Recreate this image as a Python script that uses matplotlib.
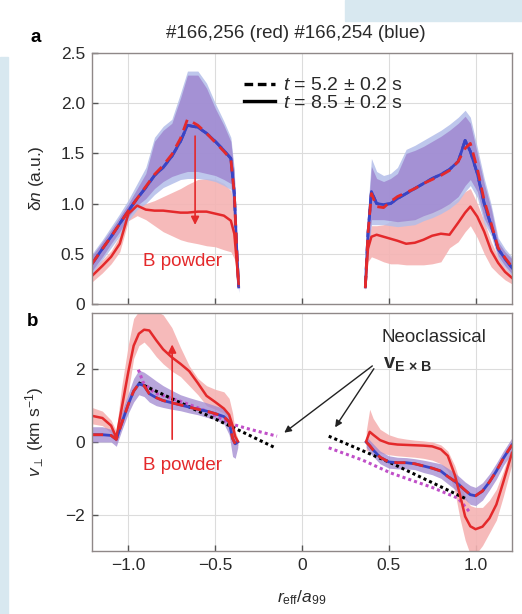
import numpy as np
import matplotlib.pyplot as plt
from matplotlib.patches import Rectangle

plt.rcParams['font.family'] = ['Liberation Sans', 'DejaVu Sans']
plt.rcParams['mathtext.fontset'] = 'custom'
plt.rcParams['mathtext.rm'] = 'Liberation Sans'
plt.rcParams['mathtext.it'] = 'Liberation Sans:italic'
plt.rcParams['mathtext.bf'] = 'Liberation Sans:bold'

# ---- panel a (density fluctuation), left side ----
xa_left = [-1.21, -1.15, -1.10, -1.05, -1.00, -0.95, -0.90, -0.85, -0.80, -0.75,
           -0.70, -0.66, -0.60, -0.55, -0.50, -0.45, -0.41, -0.39, -0.375, -0.365]
dn_blue_left = [0.40, 0.55, 0.67, 0.80, 0.93, 1.05, 1.16, 1.28, 1.36, 1.47,
                1.62, 1.78, 1.76, 1.70, 1.62, 1.53, 1.45, 1.10, 0.50, 0.17]
dn_red52_left = [0.40, 0.55, 0.67, 0.80, 0.93, 1.05, 1.17, 1.29, 1.38, 1.49,
                 1.65, 1.84, 1.78, 1.70, 1.61, 1.52, 1.44, 1.10, 0.50, 0.17]
dn_red85_left = [0.28, 0.38, 0.47, 0.60, 0.90, 0.98, 0.94, 0.93, 0.93, 0.92,
                 0.91, 0.91, 0.92, 0.92, 0.90, 0.88, 0.83, 0.70, 0.40, 0.20]
band_purple_hi_aL = [0.48, 0.62, 0.74, 0.87, 1.00, 1.15, 1.30, 1.62, 1.73, 1.80,
                     2.05, 2.28, 2.28, 2.15, 1.95, 1.78, 1.62, 1.30, 0.60, 0.20]
band_purple_lo_aL = [0.33, 0.47, 0.60, 0.72, 0.87, 0.98, 1.05, 1.15, 1.22, 1.27,
                     1.30, 1.32, 1.32, 1.30, 1.28, 1.24, 1.20, 0.90, 0.40, 0.12]
band_lblue_hi_aL = [0.50, 0.64, 0.77, 0.90, 1.04, 1.20, 1.36, 1.66, 1.77, 1.84,
                    2.10, 2.32, 2.32, 2.20, 2.00, 1.82, 1.66, 1.34, 0.62, 0.21]
band_lblue_lo_aL = [0.30, 0.44, 0.56, 0.68, 0.83, 0.94, 1.00, 1.09, 1.16, 1.20,
                    1.24, 1.25, 1.25, 1.24, 1.22, 1.18, 1.14, 0.85, 0.38, 0.11]
band_pink_hi_aL = [0.35, 0.44, 0.53, 0.68, 0.97, 1.00, 1.00, 1.03, 1.07, 1.11,
                   1.15, 1.19, 1.24, 1.25, 1.24, 1.20, 1.13, 0.95, 0.50, 0.24]
band_pink_lo_aL = [0.22, 0.31, 0.40, 0.52, 0.83, 0.88, 0.84, 0.78, 0.72, 0.68,
                   0.64, 0.62, 0.60, 0.58, 0.57, 0.54, 0.52, 0.45, 0.30, 0.16]

# ---- panel a, right side ----
xa_right = [0.365, 0.38, 0.40, 0.43, 0.47, 0.51, 0.55, 0.60, 0.65, 0.70, 0.75,
            0.80, 0.85, 0.90, 0.94, 0.97, 1.01, 1.05, 1.09, 1.13, 1.17, 1.21]
dn_blue_right = [0.17, 0.70, 1.12, 1.00, 0.99, 1.00, 1.05, 1.10, 1.15, 1.20, 1.25,
                 1.29, 1.34, 1.42, 1.63, 1.52, 1.30, 1.00, 0.78, 0.55, 0.45, 0.36]
dn_red52_right = [0.17, 0.70, 1.10, 0.97, 0.96, 1.02, 1.07, 1.11, 1.15, 1.20, 1.24,
                  1.28, 1.33, 1.42, 1.55, 1.60, 1.35, 1.03, 0.80, 0.56, 0.46, 0.37]
dn_red85_right = [0.17, 0.55, 0.67, 0.69, 0.67, 0.65, 0.63, 0.60, 0.61, 0.64, 0.68,
                  0.70, 0.69, 0.81, 0.91, 0.97, 0.87, 0.72, 0.53, 0.41, 0.32, 0.26]
band_purple_hi_aR = [0.20, 0.90, 1.37, 1.25, 1.22, 1.25, 1.30, 1.50, 1.53, 1.57, 1.62,
                     1.67, 1.73, 1.80, 1.87, 1.80, 1.50, 1.20, 0.95, 0.62, 0.52, 0.45]
band_purple_lo_aR = [0.15, 0.50, 0.84, 0.84, 0.84, 0.83, 0.82, 0.83, 0.84, 0.88, 0.91,
                     0.95, 1.00, 1.07, 1.18, 1.24, 1.12, 0.85, 0.72, 0.48, 0.38, 0.30]
band_lblue_hi_aR = [0.21, 0.95, 1.45, 1.32, 1.28, 1.30, 1.36, 1.54, 1.58, 1.63, 1.68,
                    1.73, 1.79, 1.86, 1.93, 1.86, 1.56, 1.25, 0.99, 0.66, 0.55, 0.47]
band_lblue_lo_aR = [0.14, 0.46, 0.79, 0.79, 0.79, 0.78, 0.77, 0.78, 0.79, 0.83, 0.86,
                    0.90, 0.95, 1.02, 1.12, 1.18, 1.06, 0.80, 0.68, 0.45, 0.36, 0.28]
band_pink_hi_aR = [0.20, 0.65, 0.78, 0.78, 0.79, 0.82, 0.84, 0.85, 0.86, 0.89, 0.93,
                   0.97, 1.00, 1.05, 1.12, 1.15, 1.00, 0.82, 0.62, 0.47, 0.36, 0.30]
band_pink_lo_aR = [0.14, 0.42, 0.47, 0.45, 0.42, 0.40, 0.40, 0.39, 0.39, 0.39, 0.40,
                   0.42, 0.56, 0.62, 0.72, 0.78, 0.66, 0.50, 0.37, 0.30, 0.24, 0.20]

# ---- panel b (perpendicular velocity), left side ----
xb_left = [-1.21, -1.15, -1.10, -1.07, -1.04, -1.00, -0.97, -0.94, -0.91, -0.88, -0.84,
           -0.80, -0.75, -0.70, -0.65, -0.60, -0.55, -0.50, -0.45, -0.42, -0.40, -0.385, -0.37]
v_red85_left = [0.72, 0.66, 0.45, 0.12, 0.90, 1.95, 2.65, 2.98, 3.09, 3.07, 2.80,
                2.55, 2.33, 2.15, 1.95, 1.62, 1.27, 1.10, 0.92, 0.75, 0.45, 0.15, 0.02]
v_blue_left = [0.20, 0.20, 0.18, 0.07, 0.50, 1.05, 1.40, 1.60, 1.55, 1.33, 1.22,
               1.14, 1.08, 1.02, 0.96, 0.90, 0.85, 0.78, 0.70, 0.55, 0.10, -0.05, 0.00]
band_pink_hi_bL = [0.95, 0.85, 0.60, 0.30, 1.50, 2.70, 3.40, 3.60, 3.60, 3.60, 3.60,
                   3.50, 3.15, 2.60, 2.10, 1.75, 1.55, 1.45, 1.38, 1.20, 0.80, 0.30, 0.10]
band_pink_lo_bL = [0.50, 0.45, 0.25, -0.05, 0.50, 1.40, 2.30, 2.65, 2.75, 2.60, 2.35,
                   2.15, 1.95, 1.80, 1.55, 1.30, 1.00, 0.90, 0.80, 0.60, 0.20, -0.05, -0.10]
band_purple_hi_bL = [0.42, 0.42, 0.35, 0.18, 0.80, 1.35, 1.75, 1.98, 1.92, 1.82, 1.68,
                     1.55, 1.42, 1.30, 1.22, 1.15, 1.08, 1.00, 0.92, 0.75, 0.30, 0.10, 0.05]
band_purple_lo_bL = [0.00, 0.00, 0.00, -0.12, 0.30, 0.80, 1.10, 1.30, 1.25, 1.10, 1.00,
                     0.95, 0.90, 0.86, 0.80, 0.75, 0.68, 0.62, 0.50, 0.20, -0.40, -0.45, -0.15]

# ---- panel b, right side ----
xb_right = [0.37, 0.39, 0.41, 0.45, 0.50, 0.55, 0.60, 0.65, 0.70, 0.75, 0.80,
            0.84, 0.88, 0.91, 0.94, 0.97, 1.00, 1.04, 1.08, 1.12, 1.16, 1.21]
v_red85_right = [0.02, 0.28, 0.20, 0.05, -0.04, -0.07, -0.08, -0.09, -0.10, -0.12, -0.20,
                 -0.38, -0.90, -1.45, -2.05, -2.32, -2.40, -2.33, -2.10, -1.72, -1.10, -0.30]
v_blue_right = [0.00, -0.10, -0.22, -0.42, -0.55, -0.57, -0.57, -0.60, -0.66, -0.72, -0.80,
                -0.95, -1.08, -1.20, -1.33, -1.45, -1.48, -1.35, -1.10, -0.80, -0.45, -0.08]
band_pink_hi_bR = [0.30, 0.90, 0.65, 0.35, 0.20, 0.12, 0.08, 0.05, 0.03, 0.00, -0.08,
                   -0.25, -0.65, -1.10, -1.50, -1.75, -1.80, -1.80, -1.60, -1.30, -0.80, -0.10]
band_pink_lo_bR = [-0.25, -0.20, -0.25, -0.30, -0.35, -0.38, -0.40, -0.42, -0.45, -0.50, -0.60,
                   -0.80, -1.35, -2.10, -2.70, -3.10, -3.10, -2.85, -2.50, -2.15, -1.50, -0.60]
band_purple_hi_bR = [0.15, 0.05, -0.05, -0.25, -0.38, -0.42, -0.43, -0.46, -0.50, -0.55, -0.60,
                     -0.72, -0.85, -0.97, -1.10, -1.20, -1.25, -1.12, -0.88, -0.58, -0.25, 0.12]
band_purple_lo_bR = [-0.15, -0.28, -0.40, -0.60, -0.72, -0.74, -0.74, -0.76, -0.84, -0.90, -1.00,
                     -1.15, -1.30, -1.45, -1.58, -1.72, -1.75, -1.60, -1.32, -1.02, -0.65, -0.30]

# neoclassical v_ExB predictions
neo_x_left = [-0.943, -0.70, -0.41, -0.154]
neo_black_left = [1.63, 1.08, 0.43, -0.16]
neo_mag_x_left = [-0.943, -0.914, -0.85, -0.70, -0.55, -0.41, -0.30, -0.144]
neo_mag_left = [1.99, 1.63, 1.35, 1.12, 0.85, 0.50, 0.35, 0.16]
neo_x_right = [0.154, 0.51, 0.952]
neo_black_right = [0.16, -0.57, -1.58]
neo_mag_x_right = [0.154, 0.35, 0.51, 0.75, 0.90, 0.97]
neo_mag_right = [-0.16, -0.50, -0.85, -1.25, -1.55, -1.95]

x_ticks = [-1.0, -0.5, 0, 0.5, 1.0]
x_ticklabels = ['\u22121.0', '\u22120.5', '0', '0.5', '1.0']
ya_ticks = [0, 0.5, 1.0, 1.5, 2.0, 2.5]
ya_ticklabels = ['0', '0.5', '1.0', '1.5', '2.0', '2.5']
yb_ticks = [-2, 0, 2]
yb_ticklabels = ['\u22122', '0', '2']

RED = '#e4292b'
BLUE = '#3a44c4'
PINK = '#f5b3b3'
LBLUE = '#b3bde9'
PURPLE = '#a088d0'
MAG = '#c04fc8'
SPINE = '#8f8888'
TXT = '#2a2a2a'

fig = plt.figure(figsize=(5.22, 6.14), dpi=100)
# light-blue page decorations
fig.patches.append(Rectangle((0, 0), 8 / 522, 1 - 57 / 614, transform=fig.transFigure,
                             color='#d8e8f0', zorder=-5))
fig.patches.append(Rectangle((345 / 522, 1 - 21 / 614), 177 / 522, 21 / 614,
                             transform=fig.transFigure, color='#d8e8f0', zorder=-5))

ax_a = fig.add_axes([92 / 522, 1 - 304 / 614, 420 / 522, 251 / 614])
ax_b = fig.add_axes([92 / 522, 1 - 551 / 614, 420 / 522, 238 / 614])

for ax in (ax_a, ax_b):
    ax.set_xlim(-1.21, 1.21)
    ax.set_xticks(x_ticks)
    ax.grid(True, color='#dcdcdc', linewidth=0.8)
    ax.set_axisbelow(True)
    ax.tick_params(direction='in', length=4, width=1, color='#555555',
                   labelcolor=TXT, labelsize=12.5, pad=5)
    for s in ax.spines.values():
        s.set_color(SPINE)
        s.set_linewidth(1.0)

# panel a
ax_a.set_ylim(0, 2.5)
ax_a.set_yticks(ya_ticks, ya_ticklabels)
ax_a.set_xticklabels([])
for xs, plo, phi, blo, bhi, ulo, uhi in [
        (xa_left, band_pink_lo_aL, band_pink_hi_aL, band_lblue_lo_aL, band_lblue_hi_aL,
         band_purple_lo_aL, band_purple_hi_aL),
        (xa_right, band_pink_lo_aR, band_pink_hi_aR, band_lblue_lo_aR, band_lblue_hi_aR,
         band_purple_lo_aR, band_purple_hi_aR)]:
    ax_a.fill_between(xs, plo, phi, color=PINK, lw=0, alpha=0.9)
    ax_a.fill_between(xs, blo, bhi, color=LBLUE, lw=0, alpha=0.85)
    ax_a.fill_between(xs, ulo, uhi, color=PURPLE, lw=0, alpha=0.85)

for xs, b, r52, r85 in [(xa_left, dn_blue_left, dn_red52_left, dn_red85_left),
                        (xa_right, dn_blue_right, dn_red52_right, dn_red85_right)]:
    ax_a.plot(xs, b, color=BLUE, lw=2.0)
    ax_a.plot(xs, b, color=BLUE, lw=2.0, ls=(0, (4, 2)))
    ax_a.plot(xs, r52, color=RED, lw=2.0, ls=(0, (4, 2.5)))
    ax_a.plot(xs, r85, color=RED, lw=1.8)

ax_a.annotate('', xy=(-0.616, 0.76), xytext=(-0.616, 1.70),
              arrowprops=dict(arrowstyle='-|>', color=RED, lw=1.2, mutation_scale=12))
ax_a.text(-0.69, 0.42, 'B powder', color=RED, fontsize=13.5, ha='center', va='center')

h1, = ax_a.plot([], [], color='black', lw=2.4, ls=(0, (2.6, 1.4)))
h2, = ax_a.plot([], [], color='black', lw=2.4)
ax_a.legend([h1, h2], ['$t$ = 5.2 \u00b1 0.2 s', '$t$ = 8.5 \u00b1 0.2 s'],
            loc='upper left', bbox_to_anchor=(0.362, 0.905), frameon=False,
            fontsize=14, handlelength=1.6, handletextpad=0.4, labelspacing=0.0,
            borderpad=0, borderaxespad=0, labelcolor=TXT)
ax_a.set_ylabel('\u03b4$n$ (a.u.)', fontsize=12.5, color=TXT)
ax_a.yaxis.set_label_coords(-0.11, 0.5)

# panel b
ax_b.set_ylim(-3, 3.55)
ax_b.set_yticks(yb_ticks, yb_ticklabels)
ax_b.set_xticklabels(x_ticklabels)
for xs, plo, phi, ulo, uhi in [
        (xb_left, band_pink_lo_bL, band_pink_hi_bL, band_purple_lo_bL, band_purple_hi_bL),
        (xb_right, band_pink_lo_bR, band_pink_hi_bR, band_purple_lo_bR, band_purple_hi_bR)]:
    ax_b.fill_between(xs, plo, phi, color=PINK, lw=0, alpha=0.9)
    ax_b.fill_between(xs, ulo, uhi, color=PURPLE, lw=0, alpha=0.75)

dot = (0, (1, 1))
ax_b.plot(neo_mag_x_left, neo_mag_left, color=MAG, lw=2.2, ls=dot)
ax_b.plot(neo_x_left, neo_black_left, color='black', lw=2.2, ls=dot)
ax_b.plot(neo_mag_x_right, neo_mag_right, color=MAG, lw=2.2, ls=dot)
ax_b.plot(neo_x_right, neo_black_right, color='black', lw=2.2, ls=dot)

for xs, b, r85 in [(xb_left, v_blue_left, v_red85_left),
                   (xb_right, v_blue_right, v_red85_right)]:
    ax_b.plot(xs, b, color=BLUE, lw=2.0)
    ax_b.plot(xs, b, color=RED, lw=2.0, ls=(0, (4, 2.5)))
    ax_b.plot(xs, r85, color=RED, lw=1.8)

ax_b.annotate('', xy=(-0.748, 2.76), xytext=(-0.748, 0.0),
              arrowprops=dict(arrowstyle='-|>', color=RED, lw=1.2, mutation_scale=12))
ax_b.text(-0.69, -0.65, 'B powder', color=RED, fontsize=13.5, ha='center', va='center')

ax_b.text(0.76, 2.87, 'Neoclassical', fontsize=13.5, ha='center', va='center', color=TXT)
ax_b.text(0.465, 2.13, r'$\mathbf{v}_{\mathbf{E\,\times\,B}}$', fontsize=14.5,
          ha='left', va='center', color=TXT)
ax_b.annotate('', xy=(-0.115, 0.21), xytext=(0.418, 2.14),
              arrowprops=dict(arrowstyle='-|>', color='#222222', lw=1.0, mutation_scale=10))
ax_b.annotate('', xy=(0.182, 0.34), xytext=(0.423, 2.08),
              arrowprops=dict(arrowstyle='-|>', color='#222222', lw=1.0, mutation_scale=10))

ax_b.set_ylabel(r'$v_{\perp}$ (km s$^{-1}$)', fontsize=12.5, color=TXT)
ax_b.yaxis.set_label_coords(-0.11, 0.5)
ax_b.set_xlabel(r'$r_{\mathrm{eff}}/a_{99}$', fontsize=12.5, color=TXT)
ax_b.xaxis.set_label_coords(0.5, -0.155)

fig.text(296 / 522, 1 - 33 / 614, '#166,256 (red) #166,254 (blue)', fontsize=13.5,
         ha='center', va='center', color=TXT)
fig.text(36 / 522, 1 - 38 / 614, 'a', fontsize=13.5, fontweight='bold', ha='center', va='center')
fig.text(33 / 522, 1 - 322 / 614, 'b', fontsize=13.5, fontweight='bold', ha='center', va='center')

fig.savefig('out.png', dpi=100)
